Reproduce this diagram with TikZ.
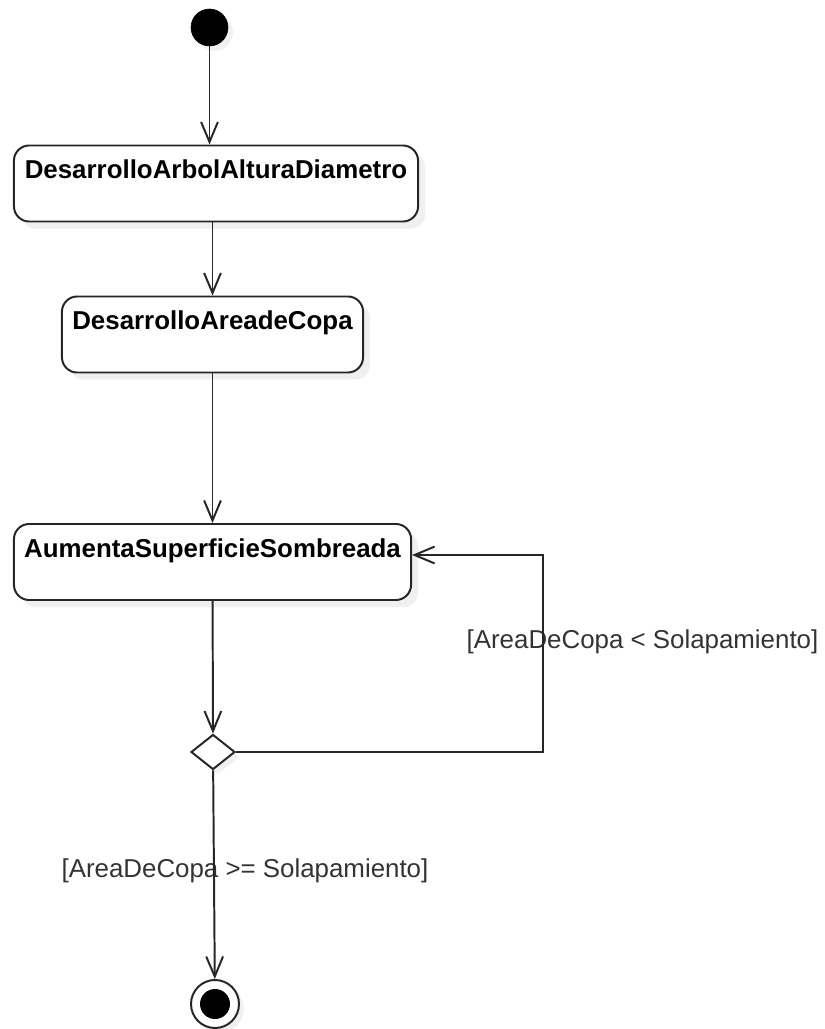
\documentclass[tikz,border=0pt]{standalone}
\usepackage{fontspec}
\setmainfont{Liberation Sans}
\usetikzlibrary{positioning,arrows.meta,shapes.geometric,shadows}
\definecolor{LineGray}{HTML}{262626}
\definecolor{GuardGray}{HTML}{333333}

\begin{document}
\begin{tikzpicture}[x=0.025cm, y=-0.025cm,
  act/.style={draw=LineGray, line width=1.4pt, rounded corners=0.38cm, fill=white, inner sep=0pt, text height=0.825cm, text depth=1.075cm, font=\bfseries\fontsize{18.4}{22}\selectfont, drop shadow={shadow xshift=0.18cm, shadow yshift=-0.18cm, opacity=0.12}},
  initial/.style={circle, fill=black, draw=black, minimum size=0.925cm, inner sep=0pt, drop shadow={shadow xshift=0.12cm, shadow yshift=-0.12cm, opacity=0.12}},
  final/.style={circle, draw=LineGray, line width=1.4pt, fill=white, minimum size=1.2cm, inner sep=0pt, path picture={\fill[black] (path picture bounding box.center) circle (0.375cm);}, drop shadow={shadow xshift=0.12cm, shadow yshift=-0.12cm, opacity=0.12}},
  choice/.style={diamond, draw=LineGray, line width=1.4pt, fill=white, minimum width=1.1cm, minimum height=0.875cm, inner sep=0pt, drop shadow={shadow xshift=0.12cm, shadow yshift=-0.12cm, opacity=0.12}},
  flow/.style={draw=LineGray, line width=1.4pt, -{Straight Barb[length=0.5cm, width=0.42cm]}},
  guard/.style={font=\fontsize{18.4}{22}\selectfont, text=GuardGray, anchor=base, inner sep=0pt}]
\useasboundingbox (0,0) rectangle (824,1029);
\node[initial] (start) at (209.5,27.5) {};
\node[act, minimum width=10.1cm]   (arbol) at (216,183.5) {DesarrolloArbolAlturaDiametro};
\node[act, minimum width=7.525cm]  (copa)  at (212.5,334.5) {DesarrolloAreadeCopa};
\node[act, minimum width=9.925cm]  (somb)  at (212.5,562) {AumentaSuperficieSombreada};
\node[choice] (dec) at (213,752) {};
\node[final]  (stop) at (215,1004) {};
\coordinate (loop) at (543,555);
\node[guard] (glt) at (642.5,648) {[AreaDeCopa < Solapamiento]};
\node[guard] (gge) at (245,877) {[AreaDeCopa >= Solapamiento]};
\draw[flow] (start) -- (start |- arbol.north);
\draw[flow] (arbol.south -| copa.north) -- (copa.north);
\draw[flow] (copa) -- (somb);
\draw[flow] (somb) -- (dec);
\draw[flow] (dec.east) -| (loop) -- (loop -| somb.east);
\draw[flow] (dec) -- (stop);
\end{tikzpicture}
\end{document}
